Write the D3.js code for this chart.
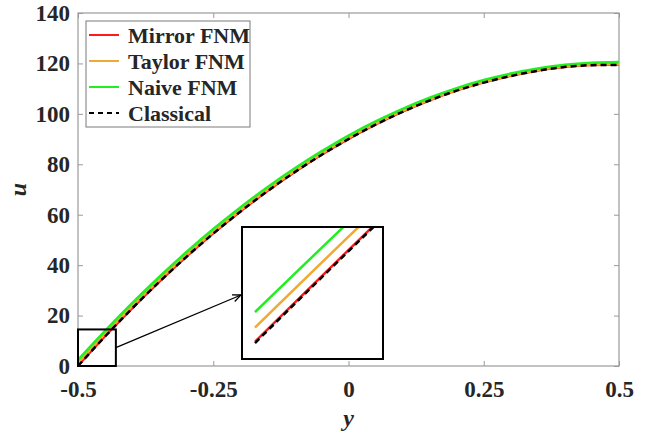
<!DOCTYPE html>
<html>
<head>
<meta charset="utf-8">
<script src="https://cdn.jsdelivr.net/npm/d3@7"></script>
<style>
  body { margin: 0; background: #fff; }
  text { font-family: "Liberation Serif", "Times New Roman", serif; font-weight: bold; fill: #262626; }
</style>
</head>
<body>
<div class="canvas"></div>
<script>
// y positions across the channel
const yPos = [-0.5, -0.45, -0.4, -0.35, -0.3, -0.25, -0.2, -0.15, -0.1, -0.05, 0,
              0.05, 0.1, 0.15, 0.2, 0.25, 0.3, 0.35, 0.4, 0.45, 0.5];
// velocity u
const classical = [0, 11.7, 22.8, 33.3, 43.2, 52.5, 61.2, 69.3, 76.8, 83.7, 90,
                   95.7, 100.8, 105.3, 109.2, 112.4, 115.0, 117.1, 118.6, 119.3, 119.4];
const mirror    = [0.1, 11.8, 22.9, 33.4, 43.3, 52.6, 61.3, 69.4, 76.9, 83.8, 90.1,
                   95.8, 100.9, 105.4, 109.3, 112.5, 115.1, 117.2, 118.7, 119.4, 119.5];
const taylor    = [1.2, 12.8, 23.8, 34.2, 44.0, 53.2, 61.8, 69.9, 77.3, 84.2, 90.5,
                   96.1, 101.2, 105.6, 109.5, 112.7, 115.3, 117.4, 118.9, 119.6, 119.7];
const naive     = [2.4, 13.9, 24.9, 35.3, 45.1, 54.3, 62.9, 70.9, 78.3, 85.1, 91.4,
                   97.0, 102.0, 106.4, 110.2, 113.4, 116.0, 118.0, 119.5, 120.3, 120.6];
const xTicks = [-0.5, -0.25, 0, 0.25, 0.5];
const xTickLabels = ["-0.5", "-0.25", "0", "0.25", "0.5"];
const yTicks = [0, 20, 40, 60, 80, 100, 120, 140];
const seriesNames = ["Mirror FNM", "Taylor FNM", "Naive FNM", "Classical"];

const width = 646, height = 435;
const margin = { top: 13, right: 27, bottom: 69, left: 78 };

const x = d3.scaleLinear().domain([-0.5, 0.5]).range([margin.left, width - margin.right]);
const y = d3.scaleLinear().domain([0, 140]).range([height - margin.bottom, margin.top]);

const svg = d3.select(".canvas").append("svg")
  .attr("width", width).attr("height", height);

const series = [
  { name: seriesNames[0], values: mirror, color: "#ff1a1a", dash: null },
  { name: seriesNames[1], values: taylor, color: "#eeaa33", dash: null },
  { name: seriesNames[2], values: naive, color: "#22ee22", dash: null },
  { name: seriesNames[3], values: classical, color: "#000", dash: "6,4" }
];

// axes box with inward ticks
const axisColor = "#9a9a9a";
svg.append("rect")
  .attr("x", margin.left).attr("y", margin.top)
  .attr("width", width - margin.left - margin.right)
  .attr("height", height - margin.top - margin.bottom)
  .attr("fill", "none").attr("stroke", axisColor).attr("stroke-width", 1.2);

const gx = svg.append("g").attr("transform", `translate(0,${height - margin.bottom})`)
  .call(d3.axisBottom(x).tickValues(xTicks).tickSizeInner(-5).tickSizeOuter(0)
    .tickPadding(15).tickFormat((d, i) => xTickLabels[i]));
const gxTop = svg.append("g").attr("transform", `translate(0,${margin.top})`)
  .call(d3.axisTop(x).tickValues(xTicks).tickSizeInner(-5).tickSizeOuter(0).tickFormat(""));
const gy = svg.append("g").attr("transform", `translate(${margin.left},0)`)
  .call(d3.axisLeft(y).tickValues(yTicks).tickSizeInner(-5).tickSizeOuter(0).tickPadding(8));
const gyRight = svg.append("g").attr("transform", `translate(${width - margin.right},0)`)
  .call(d3.axisRight(y).tickValues(yTicks).tickSizeInner(-5).tickSizeOuter(0).tickFormat(""));

[gx, gxTop, gy, gyRight].forEach(g => {
  g.attr("font-family", null).attr("font-size", null);
  g.select(".domain").remove();
  g.selectAll(".tick line").attr("stroke", axisColor);
  g.selectAll(".tick text").attr("font-size", 23).attr("fill", "#262626");
});
gx.selectAll(".tick text").attr("dy", "0.71em");

// axis labels
svg.append("text")
  .attr("x", x(0)).attr("y", 426)
  .attr("text-anchor", "middle").attr("font-size", 24).attr("font-style", "italic")
  .text("y");
svg.append("text")
  .attr("transform", `translate(26,${(margin.top + height - margin.bottom) / 2}) rotate(-90)`)
  .attr("text-anchor", "middle").attr("font-size", 24).attr("font-style", "italic")
  .text("u");

// main curves
const line = d3.line()
  .x((d, i) => x(yPos[i]))
  .y(d => y(d))
  .curve(d3.curveMonotoneX);

svg.append("g").selectAll("path")
  .data(series)
  .join("path")
    .attr("d", d => line(d.values))
    .attr("fill", "none")
    .attr("stroke", d => d.color)
    .attr("stroke-width", 2.5)
    .attr("stroke-dasharray", d => d.dash);

// zoom window on the main plot
const zoomX = [-0.5, -0.43], zoomY = [0, 14.5];
svg.append("rect")
  .attr("x", x(zoomX[0])).attr("y", y(zoomY[1]))
  .attr("width", x(zoomX[1]) - x(zoomX[0]))
  .attr("height", y(zoomY[0]) - y(zoomY[1]))
  .attr("fill", "none").attr("stroke", "#000").attr("stroke-width", 2);

// inset
const inset = { left: 242, top: 227, w: 141, h: 132 };
const ix = d3.scaleLinear().domain([-0.5042, -0.4587]).range([inset.left, inset.left + inset.w]);
const iy = d3.scaleLinear().domain([-1.24, 9]).range([inset.top + inset.h, inset.top]);

svg.append("defs").append("clipPath").attr("id", "insetClip")
  .append("rect")
  .attr("x", inset.left).attr("y", inset.top).attr("width", inset.w).attr("height", inset.h);

svg.append("rect")
  .attr("x", inset.left).attr("y", inset.top).attr("width", inset.w).attr("height", inset.h)
  .attr("fill", "#fff");

const iline = d3.line()
  .x((d, i) => ix(yPos[i]))
  .y(d => iy(d))
  .curve(d3.curveMonotoneX);

svg.append("g").attr("clip-path", "url(#insetClip)")
  .selectAll("path")
  .data(series)
  .join("path")
    .attr("d", d => iline(d.values.slice(0, 3)))
    .attr("fill", "none")
    .attr("stroke", d => d.color)
    .attr("stroke-width", 2.5)
    .attr("stroke-dasharray", d => d.dash);

svg.append("rect")
  .attr("x", inset.left).attr("y", inset.top).attr("width", inset.w).attr("height", inset.h)
  .attr("fill", "none").attr("stroke", "#000").attr("stroke-width", 2);

// arrow from zoom window to inset
const ax0 = x(zoomX[1]), ay0 = y(zoomY[1] * 0.5);
const ax1 = inset.left - 1, ay1 = inset.top + inset.h * 0.515;
svg.append("line")
  .attr("x1", ax0).attr("y1", ay0).attr("x2", ax1).attr("y2", ay1)
  .attr("stroke", "#000").attr("stroke-width", 1.3);
const ang = Math.atan2(ay1 - ay0, ax1 - ax0);
const headLen = 9, spread = 0.4;
svg.append("path")
  .attr("d", `M${ax1 - headLen * Math.cos(ang - spread)},${ay1 - headLen * Math.sin(ang - spread)}
              L${ax1},${ay1}
              L${ax1 - headLen * Math.cos(ang + spread)},${ay1 - headLen * Math.sin(ang + spread)}`)
  .attr("fill", "none").attr("stroke", "#000").attr("stroke-width", 1.3);

// legend
const legend = svg.append("g").attr("transform", "translate(86,21)");
legend.append("rect")
  .attr("width", 164).attr("height", 106)
  .attr("fill", "#fff").attr("stroke", "#7a7a7a").attr("stroke-width", 1);
const rows = legend.selectAll("g.row")
  .data(series)
  .join("g")
    .attr("class", "row")
    .attr("transform", (d, i) => `translate(0,${14 + i * 26})`);
rows.append("line")
  .attr("x1", 3).attr("x2", 33)
  .attr("stroke", d => d.color).attr("stroke-width", 2)
  .attr("stroke-dasharray", d => d.dash ? "5,4" : null);
rows.append("text")
  .attr("x", 42).attr("dy", "0.35em")
  .attr("font-size", 22)
  .text(d => d.name);
</script>
</body>
</html>
